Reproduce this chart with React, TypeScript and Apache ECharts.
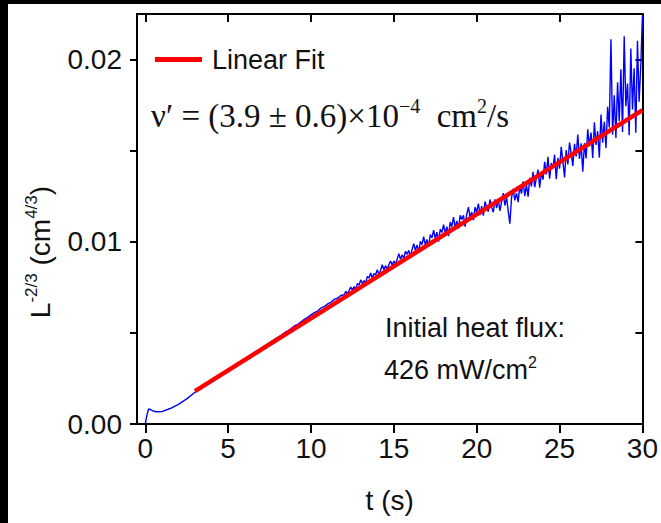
import React, { useEffect, useRef } from "react";
import * as echarts from "echarts";

// t (s) and L^-2/3 (cm^4/3)
const measured: [number, number][] = [
  [0, 0], [0.1, 0.0005], [0.2, 0.00082], [0.3, 0.0008], [0.5, 0.0007], [0.7, 0.00067],
  [1.0, 0.00068], [1.5, 0.00085], [2.0, 0.00108], [2.5, 0.00138],
  [3.0, 0.00174], [3.2, 0.0019], [3.4, 0.00205], [3.6, 0.00219], [3.8, 0.0023],
  [4.0, 0.00242], [4.2, 0.00254], [4.4, 0.00266], [4.6, 0.00278], [4.8, 0.00289],
  [5.0, 0.00301], [5.2, 0.00312], [5.4, 0.00324], [5.6, 0.00335], [5.8, 0.00347],
  [6.0, 0.00358], [6.2, 0.0037], [6.4, 0.00381], [6.6, 0.00394], [6.8, 0.00404],
  [7.0, 0.00416], [7.2, 0.00429], [7.4, 0.0044], [7.6, 0.00452], [7.8, 0.00464],
  [8.0, 0.00476], [8.2, 0.00487], [8.4, 0.00501], [8.6, 0.00511], [8.8, 0.00524],
  [9.0, 0.00538], [9.2, 0.00547], [9.4, 0.00561], [9.6, 0.00574], [9.8, 0.00585],
  [10.0, 0.00599], [10.2, 0.00611], [10.4, 0.0062], [10.6, 0.00637], [10.8, 0.00644],
  [11.0, 0.00659], [11.2, 0.00668], [11.4, 0.00684], [11.6, 0.0069], [11.8, 0.00705],
  [12.0, 0.00709], [12.1, 0.00728], [12.2, 0.00714], [12.3, 0.00733], [12.4, 0.00751],
  [12.5, 0.00735], [12.6, 0.00754], [12.7, 0.00739], [12.8, 0.00771], [12.9, 0.00763],
  [13.0, 0.00791], [13.1, 0.0077], [13.2, 0.00787], [13.3, 0.00776], [13.4, 0.0081],
  [13.5, 0.00801], [13.6, 0.00829], [13.7, 0.00801], [13.8, 0.00826], [13.9, 0.00819],
  [14.0, 0.00846], [14.1, 0.0082], [14.2, 0.00844], [14.3, 0.00874], [14.4, 0.00846],
  [14.5, 0.00869], [14.6, 0.00849], [14.7, 0.00874], [14.8, 0.00895], [14.9, 0.00871],
  [15.0, 0.00895], [15.1, 0.00875], [15.2, 0.00905], [15.3, 0.00934], [15.4, 0.00904],
  [15.5, 0.00929], [15.6, 0.00908], [15.7, 0.00948], [15.8, 0.00931], [15.9, 0.00953],
  [16.0, 0.00917], [16.1, 0.00957], [16.2, 0.00989], [16.3, 0.00953], [16.4, 0.00983],
  [16.5, 0.00943], [16.6, 0.01002], [16.7, 0.00984], [16.8, 0.01028], [16.9, 0.00982],
  [17.0, 0.01013], [17.1, 0.00973], [17.2, 0.01039], [17.3, 0.01021], [17.4, 0.01064],
  [17.5, 0.01018], [17.6, 0.01053], [17.7, 0.01001], [17.8, 0.01069], [17.9, 0.01051],
  [18.0, 0.01094], [18.1, 0.01048], [18.2, 0.01083], [18.3, 0.01031], [18.4, 0.01108],
  [18.5, 0.01083], [18.6, 0.01136], [18.7, 0.01078], [18.8, 0.01114], [18.9, 0.01073],
  [19.0, 0.01145], [19.1, 0.01123], [19.2, 0.01145], [19.3, 0.01083], [19.4, 0.01152],
  [19.5, 0.0119], [19.6, 0.01133], [19.7, 0.01163], [19.8, 0.01119], [19.9, 0.0119],
  [20.0, 0.01162], [20.1, 0.0121], [20.2, 0.01146], [20.3, 0.01196], [20.4, 0.01143],
  [20.5, 0.01221], [20.6, 0.01189], [20.7, 0.01165], [20.8, 0.01232], [20.9, 0.0119],
  [21.0, 0.01162], [21.1, 0.01233], [21.2, 0.01185], [21.3, 0.01233], [21.4, 0.0117],
  [21.5, 0.01221], [21.6, 0.01267], [21.7, 0.01199], [21.8, 0.01247], [21.9, 0.01169],
  [22.0, 0.01099], [22.1, 0.0124], [22.2, 0.01291], [22.3, 0.01227], [22.4, 0.01267],
  [22.5, 0.01218], [22.6, 0.01304], [22.7, 0.01264], [22.8, 0.01332], [22.9, 0.01251],
  [23.0, 0.01312], [23.1, 0.01247], [23.2, 0.01351], [23.3, 0.01304], [23.4, 0.01384],
  [23.5, 0.013], [23.6, 0.01351], [23.7, 0.01396], [23.8, 0.01297], [23.9, 0.01383],
  [24.0, 0.01341], [24.1, 0.01439], [24.2, 0.0137], [24.3, 0.01466], [24.4, 0.01346],
  [24.5, 0.01432], [24.6, 0.01403], [24.7, 0.01478], [24.8, 0.01344], [24.9, 0.0146],
  [25.0, 0.01401], [25.1, 0.01521], [25.2, 0.01442], [25.3, 0.01353], [25.4, 0.01503],
  [25.5, 0.01424], [25.6, 0.01545], [25.7, 0.01485], [25.8, 0.01416], [25.9, 0.01537],
  [26.0, 0.01468], [26.1, 0.01588], [26.2, 0.01454], [26.3, 0.0154], [26.4, 0.01385],
  [26.5, 0.01541], [26.6, 0.01457], [26.7, 0.01617], [26.8, 0.01523], [26.9, 0.01599],
  [27.0, 0.0146], [27.1, 0.01655], [27.2, 0.01531], [27.3, 0.01607], [27.4, 0.01462],
  [27.5, 0.01698], [27.6, 0.01544], [27.7, 0.01659], [27.8, 0.01515], [27.9, 0.01741],
  [28.0, 0.01627], [28.1, 0.02112], [28.2, 0.01588], [28.3, 0.01804], [28.4, 0.01569],
  [28.5, 0.01875], [28.6, 0.01661], [28.7, 0.01947], [28.8, 0.01602], [28.9, 0.02128],
  [29.0, 0.01744], [29.1, 0.01869], [29.2, 0.01585], [29.3, 0.02061], [29.4, 0.01726],
  [29.5, 0.01952], [29.6, 0.01598], [29.7, 0.02103], [29.8, 0.01769], [29.9, 0.01965],
  [30.0, 0.0224],
];

const fitTime = [3, 30];
const fitValue = [0.0018, 0.01722];

const xTicks = [0, 5, 10, 15, 20, 25, 30];
const yTicks = [0, 0.005, 0.01, 0.015, 0.02];
const yLabels = [0, 0.01, 0.02];

const SANS = "'Liberation Sans', Arial, sans-serif";
const SERIF = "'Liberation Serif', 'Times New Roman', serif";
const INK = "#111";

export default function App() {
  const ref = useRef<HTMLDivElement>(null);

  useEffect(() => {
    if (!ref.current) return;
    const chart = echarts.init(ref.current, null, { renderer: "svg" });
    const line = { show: true, onZero: false, lineStyle: { color: "#000", width: 2 } };
    const tickStyle = { color: "#000", width: 2 };
    const fit = fitTime.map((t, i) => [t, fitValue[i]]);

    chart.setOption({
      animation: false,
      backgroundColor: "transparent",
      grid: { left: 137, right: 15, top: 14, bottom: 99 },
      legend: {
        data: [{ name: "Linear Fit", icon: "rect" }],
        left: 155,
        top: 46,
        padding: 0,
        itemWidth: 47,
        itemHeight: 5,
        selectedMode: false,
        textStyle: { fontSize: 27, fontFamily: SANS, color: INK, padding: [0, 0, 0, 5] },
      },
      xAxis: [
        {
          type: "value",
          position: "bottom",
          min: -0.5,
          max: 30,
          axisLine: line,
          axisTick: { show: true, inside: false, length: 9, lineStyle: tickStyle, customValues: xTicks },
          axisLabel: { customValues: xTicks, fontSize: 28, fontFamily: SANS, color: INK, margin: 10 },
          splitLine: { show: false },
          name: "t (s)",
          nameLocation: "middle",
          nameGap: 62,
          nameTextStyle: { fontSize: 28, fontFamily: SANS, color: INK },
        },
        {
          type: "value",
          position: "top",
          min: -0.5,
          max: 30,
          axisLine: line,
          axisTick: { show: true, inside: true, length: 8, lineStyle: tickStyle, customValues: xTicks },
          axisLabel: { show: false },
          splitLine: { show: false },
        },
      ],
      yAxis: [
        {
          type: "value",
          position: "left",
          min: 0,
          max: 0.0225,
          axisLine: line,
          axisTick: { show: true, inside: false, length: 7, lineStyle: tickStyle, customValues: yTicks },
          axisLabel: {
            customValues: yLabels,
            fontSize: 28,
            fontFamily: SANS,
            color: INK,
            margin: 15,
            formatter: (v: number) => v.toFixed(2),
          },
          splitLine: { show: false },
        },
        {
          type: "value",
          position: "right",
          min: 0,
          max: 0.0225,
          axisLine: line,
          axisTick: { show: true, inside: true, length: 7, lineStyle: tickStyle, customValues: yTicks },
          axisLabel: { show: false },
          splitLine: { show: false },
        },
      ],
      series: [
        {
          type: "line",
          name: "measured",
          data: measured,
          symbol: "none",
          showSymbol: false,
          lineStyle: { color: "#0000ff", width: 1.4 },
          itemStyle: { color: "#0000ff" },
          z: 2,
        },
        {
          type: "line",
          name: "Linear Fit",
          data: fit,
          symbol: "none",
          showSymbol: false,
          lineStyle: { color: "#ff0000", width: 4.5 },
          itemStyle: { color: "#ff0000" },
          z: 3,
        },
      ],
      graphic: [
        {
          type: "text",
          x: 40,
          y: 252,
          rotation: Math.PI / 2,
          style: {
            text: "{m|L}{s|-2/3}{m| (cm}{s|4/3}{m|)}",
            align: "center",
            verticalAlign: "middle",
            fill: INK,
            rich: {
              m: { fontSize: 28, fontFamily: SANS, fill: INK, lineHeight: 34 },
              s: { fontSize: 17, fontFamily: SANS, fill: INK, verticalAlign: "top" },
            },
          },
        },
        {
          type: "text",
          x: 151,
          y: 116,
          style: {
            text: "{m|ν′ = (3.9 ± 0.6)×10}{s|−4}{m|  cm}{s|2}{m|/s}",
            verticalAlign: "middle",
            fill: INK,
            rich: {
              m: { fontSize: 33, fontFamily: SERIF, fill: INK, lineHeight: 40 },
              s: { fontSize: 20, fontFamily: SERIF, fill: INK, verticalAlign: "top" },
            },
          },
        },
        {
          type: "text",
          x: 385,
          y: 328,
          style: {
            text: "Initial heat flux:",
            verticalAlign: "middle",
            fill: INK,
            fontSize: 27,
            fontFamily: SANS,
          },
        },
        {
          type: "text",
          x: 384,
          y: 370,
          style: {
            text: "{m|426 mW/cm}{s|2}",
            verticalAlign: "middle",
            fill: INK,
            rich: {
              m: { fontSize: 27, fontFamily: SANS, fill: INK, lineHeight: 32 },
              s: { fontSize: 16, fontFamily: SANS, fill: INK, verticalAlign: "top" },
            },
          },
        },
      ],
    });
    return () => chart.dispose();
  }, []);

  return (
    <div style={{ position: "fixed", left: 0, top: 0, width: 661, height: 523, background: "#000" }}>
      <div style={{ position: "absolute", left: 8, top: 4, right: 0, bottom: 0, background: "#fff" }} />
      <div ref={ref} style={{ position: "absolute", left: 0, top: 0, width: 661, height: 523 }} />
    </div>
  );
}
